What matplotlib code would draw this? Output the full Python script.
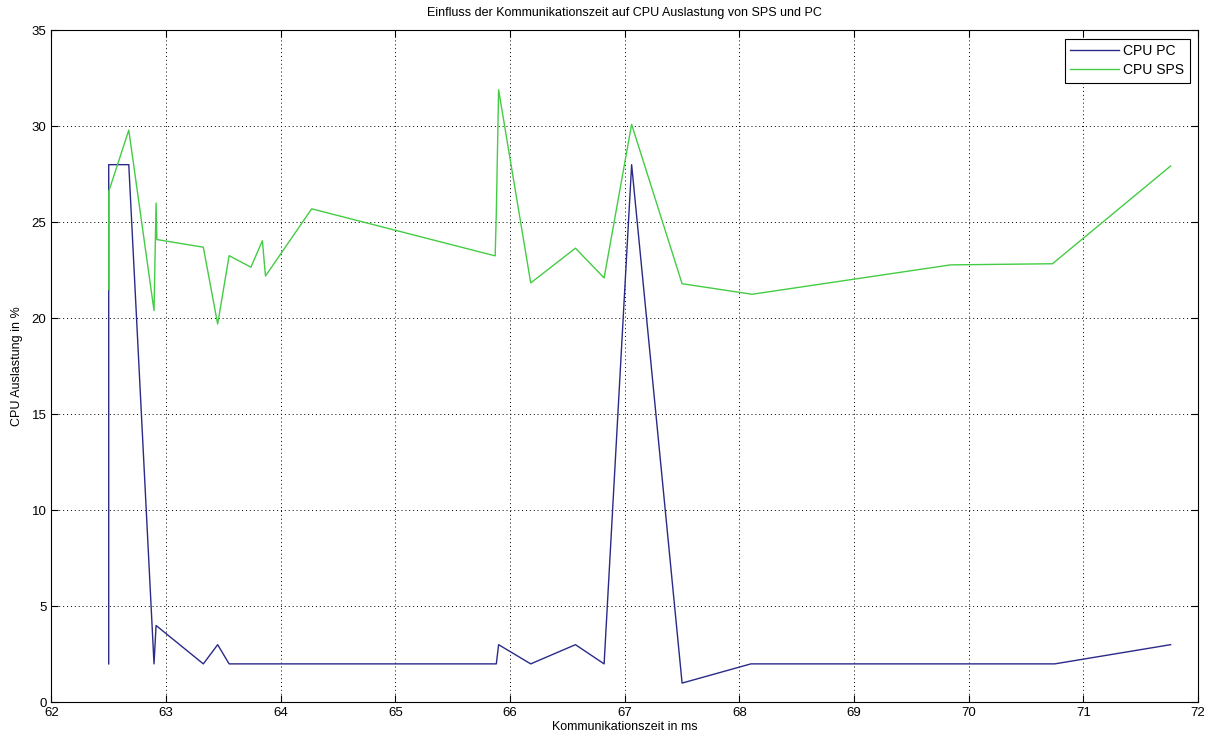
import matplotlib
matplotlib.use("Agg")
import matplotlib.pyplot as plt

# CPU PC series
pc_x = [62.50, 62.50, 62.675, 62.895, 62.913, 63.325, 63.45, 63.55, 65.88, 65.90,
        66.18, 66.57, 66.82, 67.06, 67.50, 68.10, 70.75, 71.76]
pc_y = [2.0, 28.0, 28.0, 2.0, 4.0, 2.0, 3.0, 2.0, 2.0, 3.0,
        2.0, 3.0, 2.0, 28.0, 1.0, 2.0, 2.0, 3.0]

# CPU SPS series
sps_x = [62.50, 62.50, 62.675, 62.895, 62.913, 62.92, 63.325, 63.45, 63.55, 63.74,
         63.84, 63.867, 64.27, 65.87, 65.88, 65.90, 66.18, 66.57, 66.82, 67.06,
         67.50, 68.11, 69.84, 70.73, 71.76]
sps_y = [21.5, 26.6, 29.8, 20.4, 26.0, 24.1, 23.7, 19.7, 23.26, 22.66,
         24.04, 22.2, 25.7, 23.25, 25.5, 31.9, 21.84, 23.65, 22.1, 30.1,
         21.8, 21.25, 22.78, 22.84, 27.93]

x_ticks = list(range(62, 73))
y_ticks = list(range(0, 36, 5))

plt.rcParams['font.family'] = ['Liberation Sans', 'DejaVu Sans']

fig = plt.figure(figsize=(12.09, 7.38), dpi=100)
ax = fig.add_axes([0.0425, 0.0484, 0.9485, 0.9106])

ax.plot(pc_x, pc_y, color='#2a2a88', lw=1.0, label='CPU PC')
ax.plot(sps_x, sps_y, color='#44cc44', lw=1.0, label='CPU SPS')

ax.set_xlim(62, 72)
ax.set_ylim(0, 35)
ax.set_xticks(x_ticks)
ax.set_yticks(y_ticks)
ax.tick_params(direction='in', length=5, labelsize=9.5, top=True, right=True)
ax.grid(True, linestyle=(0, (1, 3)), color='black', linewidth=0.7)
for s in ax.spines.values():
    s.set_linewidth(0.8)

ax.set_title('Einfluss der Kommunikationszeit auf CPU Auslastung von SPS und PC', fontsize=9, pad=10)
ax.set_xlabel('Kommunikationszeit in ms', fontsize=9, labelpad=1)
ax.set_ylabel('CPU Auslastung in %', fontsize=9, labelpad=6)

leg = ax.legend(loc='upper right', fontsize=10, fancybox=False, framealpha=1,
                edgecolor='black', handlelength=3.5, borderaxespad=0.6,
                labelspacing=0.35, borderpad=0.4, handletextpad=0.3)
leg.get_frame().set_linewidth(0.8)

fig.savefig('out.png', dpi=100)
